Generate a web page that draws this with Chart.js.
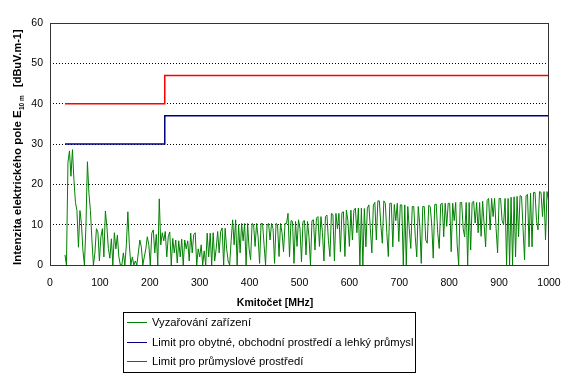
<!DOCTYPE html>
<html><head><meta charset="utf-8">
<script src="https://cdn.jsdelivr.net/npm/chart.js@4"></script>
<style>html,body{margin:0;padding:0;background:#fff}#wrap{position:relative;width:568px;height:379px}</style>
</head><body><div id="wrap"><canvas id="c" width="568" height="379"></canvas></div>
<script>
// ---- data ----
const emissionStartMHz = 30;
const emissionStepMHz = 3;
const emissionValues = [
  2.5, 0, 25.5, 28.3, 22, 28.6, 21, 15.5, 13.5, 4.4,
  13.5, 10.3, 3.6, 0, 9.6, 25.6, 17.8, 13.5, 6.2, 0,
  3, 9, 8.2, 1, 7, 9, 2, 13.4, 9.5, 4.1,
  1.7, 6.5, 0, 8, 4, 7.4, 2, 0, 0, 3,
  0, 5, 13.2, 5, 0, 2, 0, 1, 0, 3,
  6.2, 4.5, 0, 2, 4, 7, 5, 0, 7.9, 8.7,
  3, 7.6, 0, 16.4, 5, 8, 6, 8.3, 2, 7,
  8.2, 0, 6.6, 3, 6.2, 0.5, 6, 2, 6.4, 0,
  6.2, 4, 6, 1, 7.9, 3, 7.5, 8, 0, 4,
  2, 5, 0, 3.5, 0, 7.9, 2, 7.9, 0, 8,
  1, 4, 8.3, 3, 8.3, 9.2, 0, 9.1, 4, 1,
  0, 6, 11.2, 5, 11.2, 0, 10, 3, 10.3, 6,
  10.3, 0, 10.3, 4, 1.3, 10.3, 10, 4.6, 10.3, 7,
  0.4, 10.3, 10.3, 5, 0, 10, 10.3, 6.2, 10.3, 9,
  0.4, 10.3, 10, 2.1, 10.3, 8, 3.3, 10.3, 10.3, 12.8,
  2, 11, 10.8, 0.4, 10.8, 4.6, 11.2, 9, 0.8, 10.8,
  11, 2.5, 10.8, 7, 0, 11, 11.2, 3.7, 11.6, 12,
  4.6, 12, 8, 1, 12, 12.4, 6, 2.1, 12.8, 12.5,
  1, 12.8, 9, 12.8, 3.3, 13, 13.2, 2.1, 13.6, 11,
  4.6, 13.6, 6.2, 13.6, 14.1, 8, 14.1, 0, 14.1, 0,
  14, 4.5, 14.1, 14.9, 9, 3, 14.9, 15.5, 6.2, 15.9,
  15.9, 10, 5.4, 15.9, 15.3, 8, 2.1, 15.3, 15.3, 4.5,
  15, 11, 15.3, 5.8, 14.9, 14.9, 0, 14.9, 0, 14.5,
  9, 4.1, 14.5, 14.5, 7, 2, 14.5, 10, 0.4, 14.5,
  14.5, 6.2, 5.4, 14.8, 14.5, 10, 1.7, 15, 15.1, 8,
  4.1, 15.1, 15.3, 7, 15.3, 9.6, 15.3, 15.3, 3.3, 15.3,
  11, 15.5, 5, 0, 15.5, 15.5, 9, 7, 15.5, 0,
  15.5, 3.7, 15.5, 15.8, 10.4, 15.5, 8, 15.5, 7.1, 15.8,
  10, 4.5, 16, 16.5, 8.7, 16.5, 12, 16.5, 9, 3,
  16.5, 16.5, 11, 10, 16.5, 0, 16.5, 0, 16.8, 0,
  16.9, 2, 17, 7, 17.2, 17, 9, 1.3, 17.2, 17.5,
  4.5, 17.8, 4.5, 18, 18, 11, 8.7, 18.2, 18, 12,
  18.2, 6.2, 18.2, 16
];
const limitResidentialFreq = [30, 230, 230, 1000];
const limitResidentialValues = [30, 30, 37, 37];
const limitIndustrialFreq = [30, 230, 230, 1000];
const limitIndustrialValues = [40, 40, 47, 47];
const xTickValues = [0, 100, 200, 300, 400, 500, 600, 700, 800, 900, 1000];
const yTickValues = [0, 10, 20, 30, 40, 50, 60];
const seriesNames = [
  'Vyzařování zařízení',
  'Limit pro obytné, obchodní prostředí a lehký průmysl',
  'Limit pro průmyslové prostředí'
];
const seriesColors = ['#008000', '#000080', '#FF0000'];
const xTitle = 'Kmitočet [MHz]';
const yTitleMain = 'Intenzita elektrického pole E';
const yTitleSub = '10 m';
const yTitleUnit = '[dBuV.m-1]';

// ---- build datasets ----
const emissionPts = emissionValues.map((v, i) => ({x: emissionStartMHz + i * emissionStepMHz, y: v}));
const resPts = limitResidentialFreq.map((f, i) => ({x: f, y: limitResidentialValues[i]}));
const indPts = limitIndustrialFreq.map((f, i) => ({x: f, y: limitIndustrialValues[i]}));

const FONT = "'Liberation Sans', Arial, sans-serif";

const decor = {
  id: 'decor',
  afterDatasetsDraw(chart) {
    const {ctx, chartArea: a} = chart;
    ctx.save();
    ctx.strokeStyle = '#333';
    ctx.lineWidth = 1;
    ctx.strokeRect(Math.round(a.left) + 0.5, Math.round(a.top) + 0.5,
                   Math.round(a.right - a.left) - 1, Math.round(a.bottom - a.top));
    ctx.restore();
  },
  afterDraw(chart) {
    const {ctx} = chart;
    ctx.save();
    ctx.fillStyle = '#000';
    // x title
    ctx.font = 'bold 10.5px ' + FONT;
    ctx.textAlign = 'center';
    ctx.textBaseline = 'middle';
    ctx.fillText(xTitle, 275, 303);
    // y title (rotated, with subscript)
    ctx.save();
    ctx.translate(21, 265);
    ctx.rotate(-Math.PI / 2);
    ctx.textAlign = 'left';
    ctx.textBaseline = 'alphabetic';
    ctx.font = 'bold 11.5px ' + FONT;
    ctx.fillText(yTitleMain, 0, 0);
    ctx.font = 'bold 6.5px ' + FONT;
    ctx.fillText(yTitleSub, 155, 2.5);
    ctx.font = 'bold 11px ' + FONT;
    ctx.fillText(yTitleUnit, 178, 0);
    ctx.restore();
    // legend
    ctx.strokeStyle = '#000';
    ctx.lineWidth = 1;
    ctx.strokeRect(123.5, 312.5, 292, 60);
    const rows = [322, 342, 361];
    ctx.font = '11.25px ' + FONT;
    ctx.textAlign = 'left';
    ctx.textBaseline = 'middle';
    rows.forEach((y, i) => {
      ctx.strokeStyle = seriesColors[i];
      ctx.beginPath();
      ctx.moveTo(127, y + 0.5);
      ctx.lineTo(147, y + 0.5);
      ctx.stroke();
      ctx.fillStyle = '#000';
      ctx.fillText(seriesNames[i], 152, y + 0.5);
    });
    ctx.restore();
  }
};

new Chart(document.getElementById('c'), {
  type: 'line',
  data: {
    datasets: [
      {label: seriesNames[0], data: emissionPts, borderColor: seriesColors[0], borderWidth: 1, pointRadius: 0, tension: 0, order: 3},
      {label: seriesNames[1], data: resPts, borderColor: seriesColors[1], borderWidth: 1.5, pointRadius: 0, tension: 0, order: 2},
      {label: seriesNames[2], data: indPts, borderColor: seriesColors[2], borderWidth: 1.5, pointRadius: 0, tension: 0, order: 1}
    ]
  },
  options: {
    responsive: false,
    animation: false,
    devicePixelRatio: 1,
    layout: {padding: {top: 23, right: 19, bottom: 0, left: 0}},
    plugins: {legend: {display: false}, tooltip: {enabled: false}, title: {display: false}},
    scales: {
      x: {
        type: 'linear', min: 0, max: 1000,
        afterBuildTicks: s => { s.ticks = xTickValues.map(v => ({value: v})); },
        afterFit: s => { s.height = 114; s.paddingLeft = 0; s.paddingRight = 0; },
        grid: {display: false, drawTicks: false},
        border: {display: false},
        ticks: {color: '#000', font: {family: FONT, size: 10.5}, padding: 12, maxRotation: 0, autoSkip: false,
                callback: v => String(v)}
      },
      y: {
        min: 0, max: 60,
        afterBuildTicks: s => { s.ticks = yTickValues.map(v => ({value: v})); },
        afterFit: s => { s.width = 50; s.paddingTop = 0; s.paddingBottom = 0; },
        grid: {
          drawTicks: false,
          color: c => (c.tick && (c.tick.value === 0 || c.tick.value === 60)) ? 'rgba(0,0,0,0)' : '#000',
          lineWidth: 1
        },
        border: {display: false, dash: [1, 2]},
        ticks: {color: '#000', font: {family: FONT, size: 10.5}, padding: 7, callback: v => String(v)}
      }
    }
  },
  plugins: [decor]
});
</script>
</body></html>
